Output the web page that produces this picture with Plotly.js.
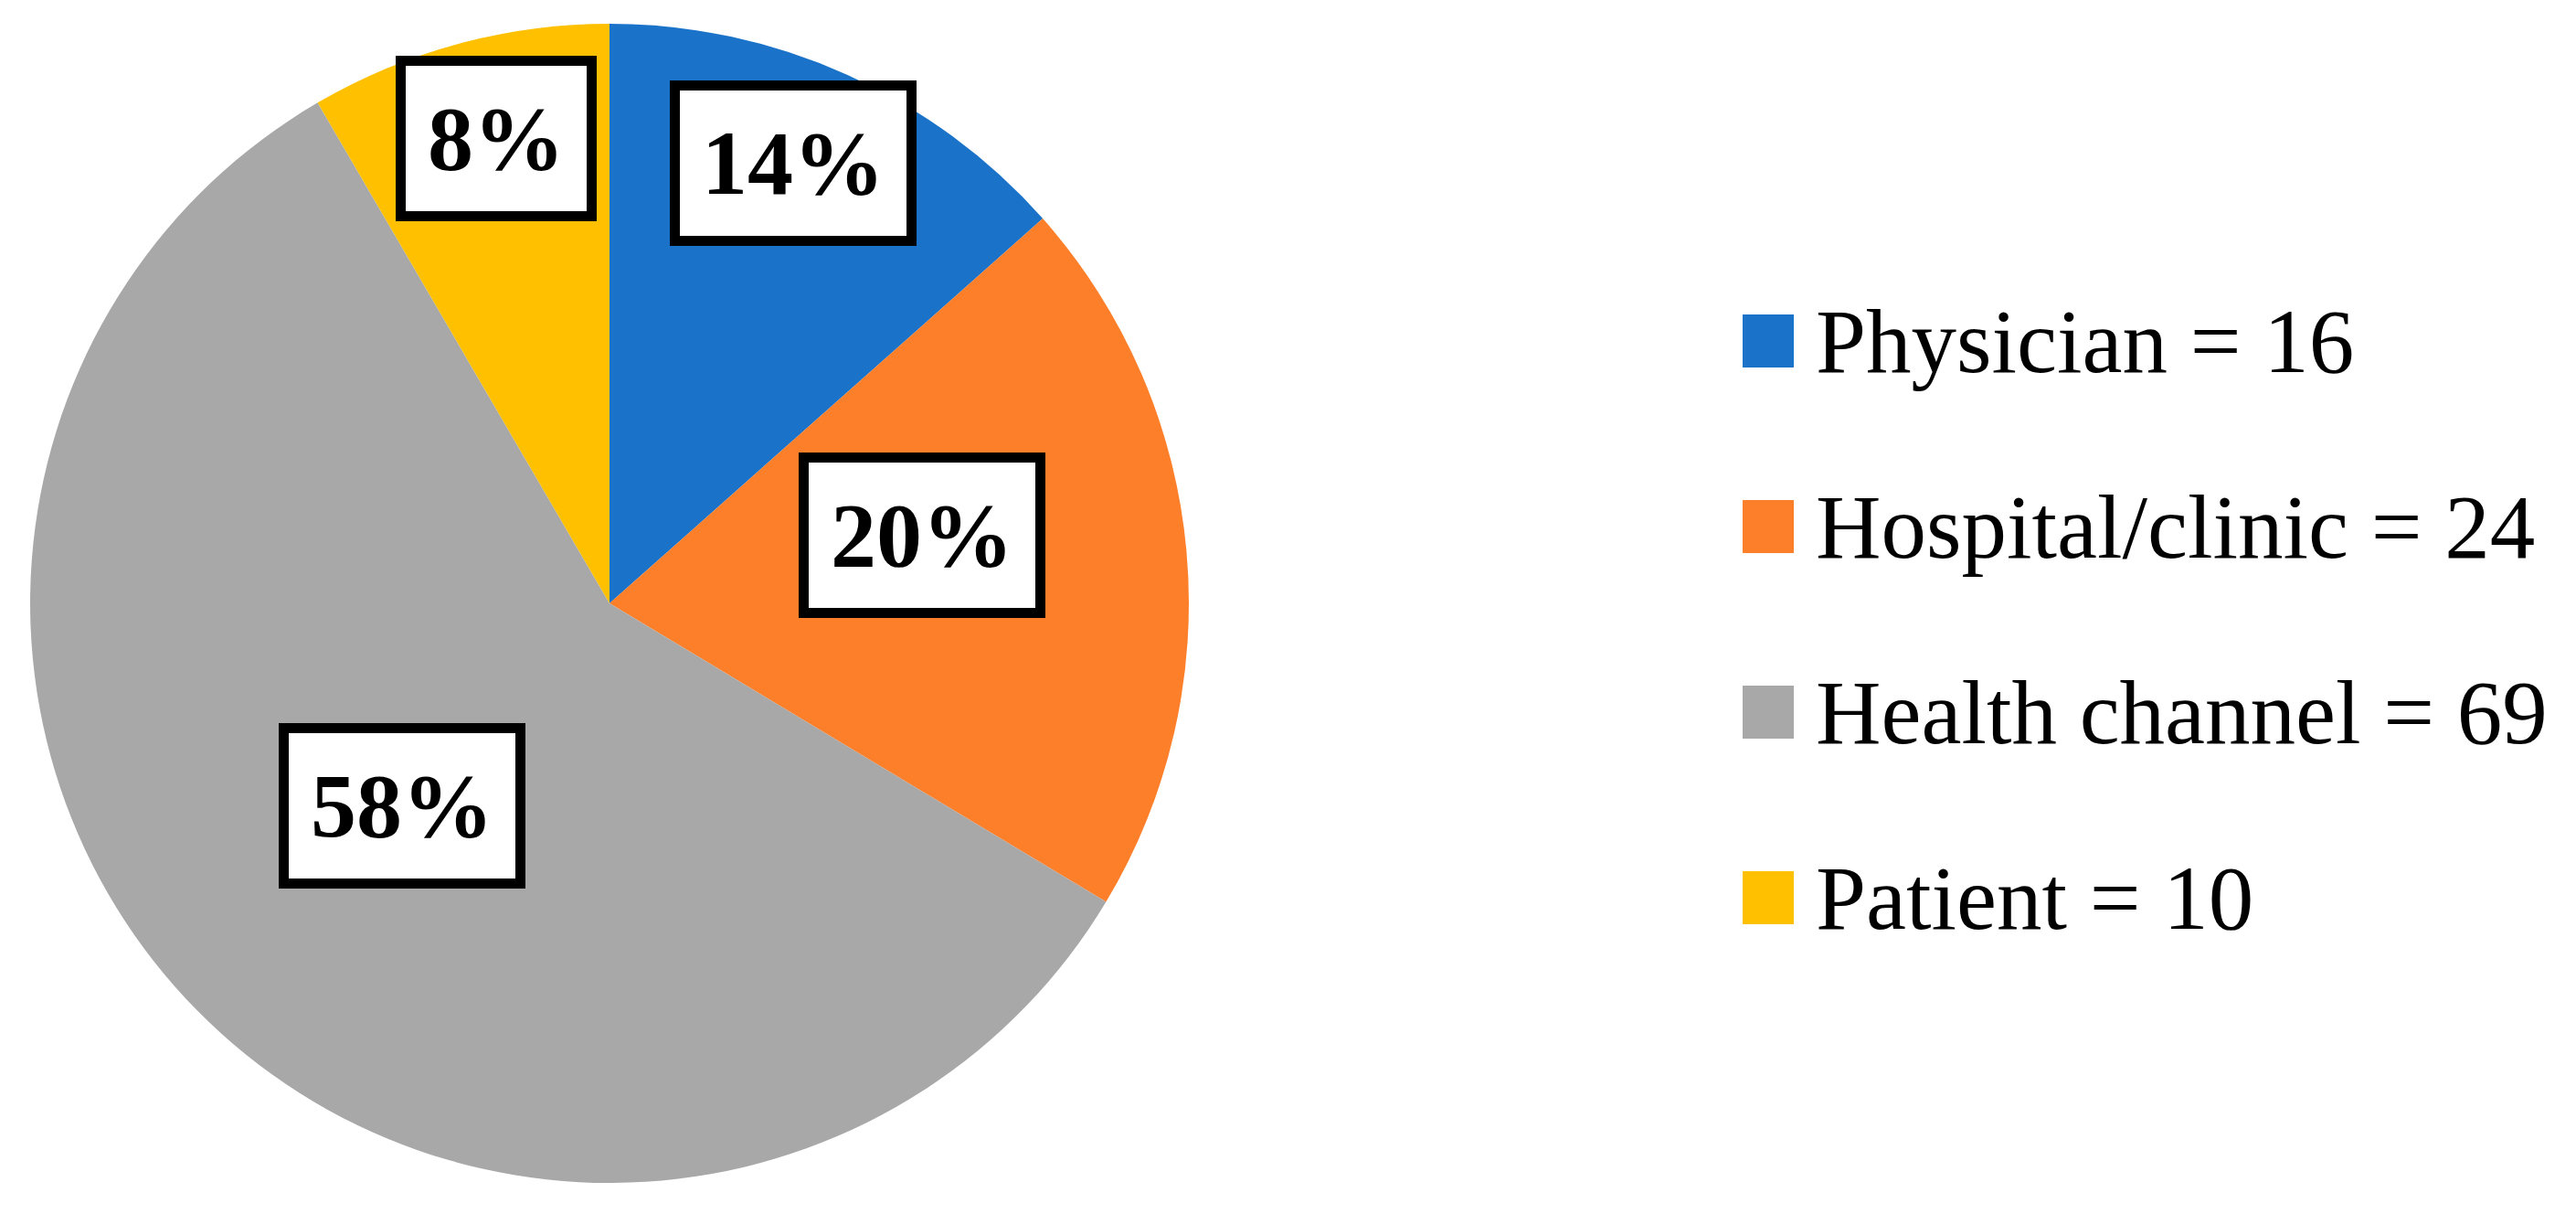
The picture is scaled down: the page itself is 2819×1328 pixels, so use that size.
<!DOCTYPE html>
<html>
<head>
<meta charset="utf-8">
<script src="https://cdn.plot.ly/plotly-3.0.1.min.js"></script>
<style>
  html, body { margin: 0; padding: 0; background: #fff; }
  #source-pie { width: 2819px; height: 1328px; }
</style>
</head>
<body>
<div id="source-pie"></div>
<script>
// data
var sources = ["Physician", "Hospital/clinic", "Health channel", "Patient"];
var counts = [16, 24, 69, 10];
var pctLabels = ["14%", "20%", "58%", "8%"];
var sliceColors = ["#1a73c9", "#fe7f2a", "#a8a8a8", "#ffc000"];

var W = 2819, H = 1328;

// box centres of the percent labels (pixels, from the top-left)
var labelSpots = [[868, 178], [1009, 585], [440, 881], [543, 152]];

function px(x){ return x / W; }
function py(y){ return 1 - y / H; }

var pie = {
    type: "pie",
    labels: sources,
    values: counts,
    sort: false,
    direction: "clockwise",
    rotation: 0,
    textinfo: "none",
    hoverinfo: "skip",
    showlegend: false,
    marker: {colors: sliceColors, line: {width: 0}},
    domain: {x: [px(33), px(1301)], y: [py(1294), py(26)]}
};

var annotations = [];
var shapes = [];

pctLabels.forEach(function(t, i){
    annotations.push({
        xref: "paper", yref: "paper",
        x: px(labelSpots[i][0]), y: py(labelSpots[i][1]),
        xanchor: "center", yanchor: "middle",
        text: "<b>" + t + "</b>",
        showarrow: false,
        font: {family: "Liberation Serif, Times New Roman, serif", size: 100, color: "#000"},
        bgcolor: "#fff",
        bordercolor: "#000",
        borderwidth: 11,
        borderpad: 24
    });
});

// legend, drawn by hand so the swatches can be as large as the reference
var legTop = 373, legStep = 203;
sources.forEach(function(s, i){
    var cy = legTop + i * legStep;
    shapes.push({
        type: "rect", xref: "paper", yref: "paper",
        x0: px(1907), x1: px(1963), y0: py(cy + 29), y1: py(cy - 29),
        fillcolor: sliceColors[i], line: {width: 0}
    });
    annotations.push({
        xref: "paper", yref: "paper",
        x: px(1985), y: py(cy),
        xanchor: "left", yanchor: "middle",
        text: s + " = " + counts[i],
        showarrow: false,
        font: {family: "Liberation Serif, Times New Roman, serif", size: 99, color: "#000"}
    });
});

var layout = {
    width: W,
    height: H,
    margin: {l: 0, r: 0, t: 0, b: 0},
    paper_bgcolor: "#fff",
    plot_bgcolor: "#fff",
    showlegend: false,
    annotations: annotations,
    shapes: shapes
};

Plotly.newPlot("source-pie", [pie], layout, {staticPlot: true});
</script>
</body>
</html>
